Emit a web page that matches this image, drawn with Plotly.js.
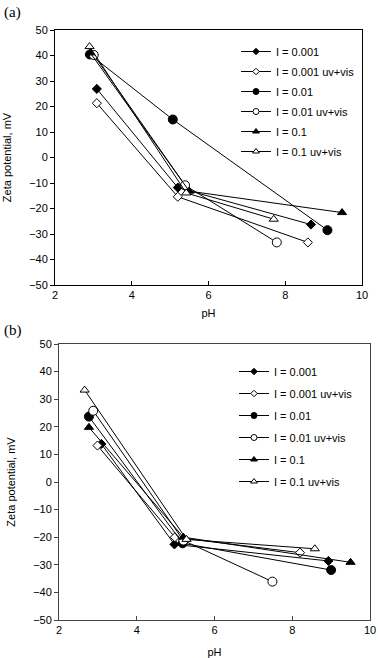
<!DOCTYPE html>
<html>
<head>
<meta charset="utf-8">
<script src="https://cdn.plot.ly/plotly-3.0.1.min.js"></script>
<style>html,body{margin:0;padding:0;background:#fff;}#chart{width:378px;height:658px;}</style>
</head>
<body>
<div id="chart"></div>
<script>
// Series names
const seriesNames = ["I = 0.001", "I = 0.001 uv+vis", "I = 0.01", "I = 0.01 uv+vis", "I = 0.1", "I = 0.1 uv+vis"];

// Panel (a) data
const a_pH_I0001 = [3.09, 5.20, 8.67];
const a_zeta_I0001 = [26.9, -11.8, -26.3];
const a_pH_I0001uv = [3.09, 5.20, 8.59];
const a_zeta_I0001uv = [21.3, -15.4, -33.3];
const a_pH_I001 = [2.91, 5.07, 9.10];
const a_zeta_I001 = [40.4, 14.9, -28.5];
const a_pH_I001uv = [3.01, 5.39, 7.78];
const a_zeta_I001uv = [40.2, -10.9, -33.3];
const a_pH_I01 = [2.92, 5.50, 9.48];
const a_zeta_I01 = [41.0, -13.2, -21.6];
const a_pH_I01uv = [2.90, 5.42, 7.70];
const a_zeta_I01uv = [43.5, -13.9, -24.2];

// Panel (b) data
const b_pH_I0001 = [3.09, 4.97, 8.93];
const b_zeta_I0001 = [13.8, -22.6, -28.6];
const b_pH_I0001uv = [2.99, 4.98, 8.20];
const b_zeta_I0001uv = [13.2, -20.0, -25.6];
const b_pH_I001 = [2.77, 5.18, 9.00];
const b_zeta_I001 = [23.7, -22.2, -31.9];
const b_pH_I001uv = [2.88, 5.20, 7.49];
const b_zeta_I001uv = [25.8, -21.2, -36.1];
const b_pH_I01 = [2.77, 5.20, 9.50];
const b_zeta_I01 = [19.8, -20.0, -29.1];
const b_pH_I01uv = [2.66, 5.28, 8.58];
const b_zeta_I01uv = [33.3, -20.8, -24.2];

// Axis ticks
const xTicks = [2, 4, 6, 8, 10];
const yTicks = [-50, -40, -30, -20, -10, 0, 10, 20, 30, 40, 50];

const symbols = ["diamond", "diamond", "circle", "circle", "triangle-up", "triangle-up"];
const fills = ["#000", "#fff", "#000", "#fff", "#000", "#fff"];
const plotSizes = [7, 7, 9, 9, 8, 8];
const legendSizes = [5, 5, 6, 6, 6, 6];

const aX = [a_pH_I0001, a_pH_I0001uv, a_pH_I001, a_pH_I001uv, a_pH_I01, a_pH_I01uv];
const aY = [a_zeta_I0001, a_zeta_I0001uv, a_zeta_I001, a_zeta_I001uv, a_zeta_I01, a_zeta_I01uv];
const bX = [b_pH_I0001, b_pH_I0001uv, b_pH_I001, b_pH_I001uv, b_pH_I01, b_pH_I01uv];
const bY = [b_zeta_I0001, b_zeta_I0001uv, b_zeta_I001, b_zeta_I001uv, b_zeta_I01, b_zeta_I01uv];

function mk(i, size) {
  return {symbol: symbols[i], size: size, color: fills[i], line: {color: "#000", width: 1}};
}

const traces = [];
[[aX, aY, "x", "y", "legend", "a"], [bX, bY, "x2", "y2", "legend2", "b"]].forEach(([X, Y, xa, ya, lg, p]) => {
  seriesNames.forEach((n, i) => {
    traces.push({x: X[i], y: Y[i], name: n, type: "scatter", mode: "lines+markers",
      xaxis: xa, yaxis: ya, showlegend: false, legendgroup: p + i,
      line: {color: "#000", width: 1}, marker: mk(i, plotSizes[i]), cliponaxis: false});
  });
  // legend-only entries (smaller legend symbols as in the original)
  seriesNames.forEach((n, i) => {
    traces.push({x: [null], y: [null], name: n, type: "scatter", mode: "lines+markers",
      xaxis: xa, yaxis: ya, legend: lg, legendgroup: p + i, showlegend: true,
      line: {color: "#000", width: 1}, marker: mk(i, legendSizes[i])});
  });
});

const W = 378, H = 658;
const font = {family: "Liberation Sans, Arial, sans-serif", size: 11, color: "#000"};

function xAxis(dom, anchor, lc, st) {
  return {domain: dom, anchor: anchor, range: [2, 10], tickvals: xTicks, ticks: "inside", ticklen: 4,
    tickcolor: lc, showline: true, linecolor: lc, linewidth: 1, mirror: true, showgrid: false, zeroline: false,
    title: {text: "pH", font: font, standoff: st}, tickfont: font, fixedrange: true};
}
function yAxis(dom, anchor, lc) {
  return {domain: dom, anchor: anchor, range: [-50, 50], tickvals: yTicks, ticks: "outside", ticklen: 4,
    tickcolor: lc, showline: true, linecolor: lc, linewidth: 1, mirror: true, showgrid: false, zeroline: false,
    title: {text: "Zeta potential, mV", font: font, standoff: 15}, tickfont: font, fixedrange: true};
}

const layout = {
  width: W, height: H,
  margin: {l: 0, r: 0, t: 0, b: 0},
  paper_bgcolor: "#fff", plot_bgcolor: "#fff",
  font: font,
  showlegend: true,
  xaxis: xAxis([55 / W, 362 / W], "y", "#000", 9),
  yaxis: yAxis([1 - 285 / H, 1 - 30 / H], "x", "#000"),
  xaxis2: xAxis([59 / W, 370 / W], "y2", "#444", 13),
  yaxis2: yAxis([1 - 620 / H, 1 - 344 / H], "x2", "#444"),
  legend: {x: 236 / W, y: 1 - 37 / H, xanchor: "left", yanchor: "top", bgcolor: "rgba(0,0,0,0)",
    font: font, tracegroupgap: 1, itemwidth: 30},
  legend2: {x: 234 / W, y: 1 - 357 / H, xanchor: "left", yanchor: "top", bgcolor: "rgba(0,0,0,0)",
    font: font, tracegroupgap: 3, itemwidth: 30},
  annotations: [
    {text: "(a)", xref: "paper", yref: "paper", x: 2 / W, y: 1 - 2 / H, xanchor: "left", yanchor: "top",
      showarrow: false, font: {family: "Liberation Serif, Times New Roman, serif", size: 15, color: "#000"}},
    {text: "(b)", xref: "paper", yref: "paper", x: 2 / W, y: 1 - 320 / H, xanchor: "left", yanchor: "top",
      showarrow: false, font: {family: "Liberation Serif, Times New Roman, serif", size: 15, color: "#000"}}
  ]
};

Plotly.newPlot("chart", traces, layout, {displayModeBar: false, staticPlot: true});
</script>
</body>
</html>
